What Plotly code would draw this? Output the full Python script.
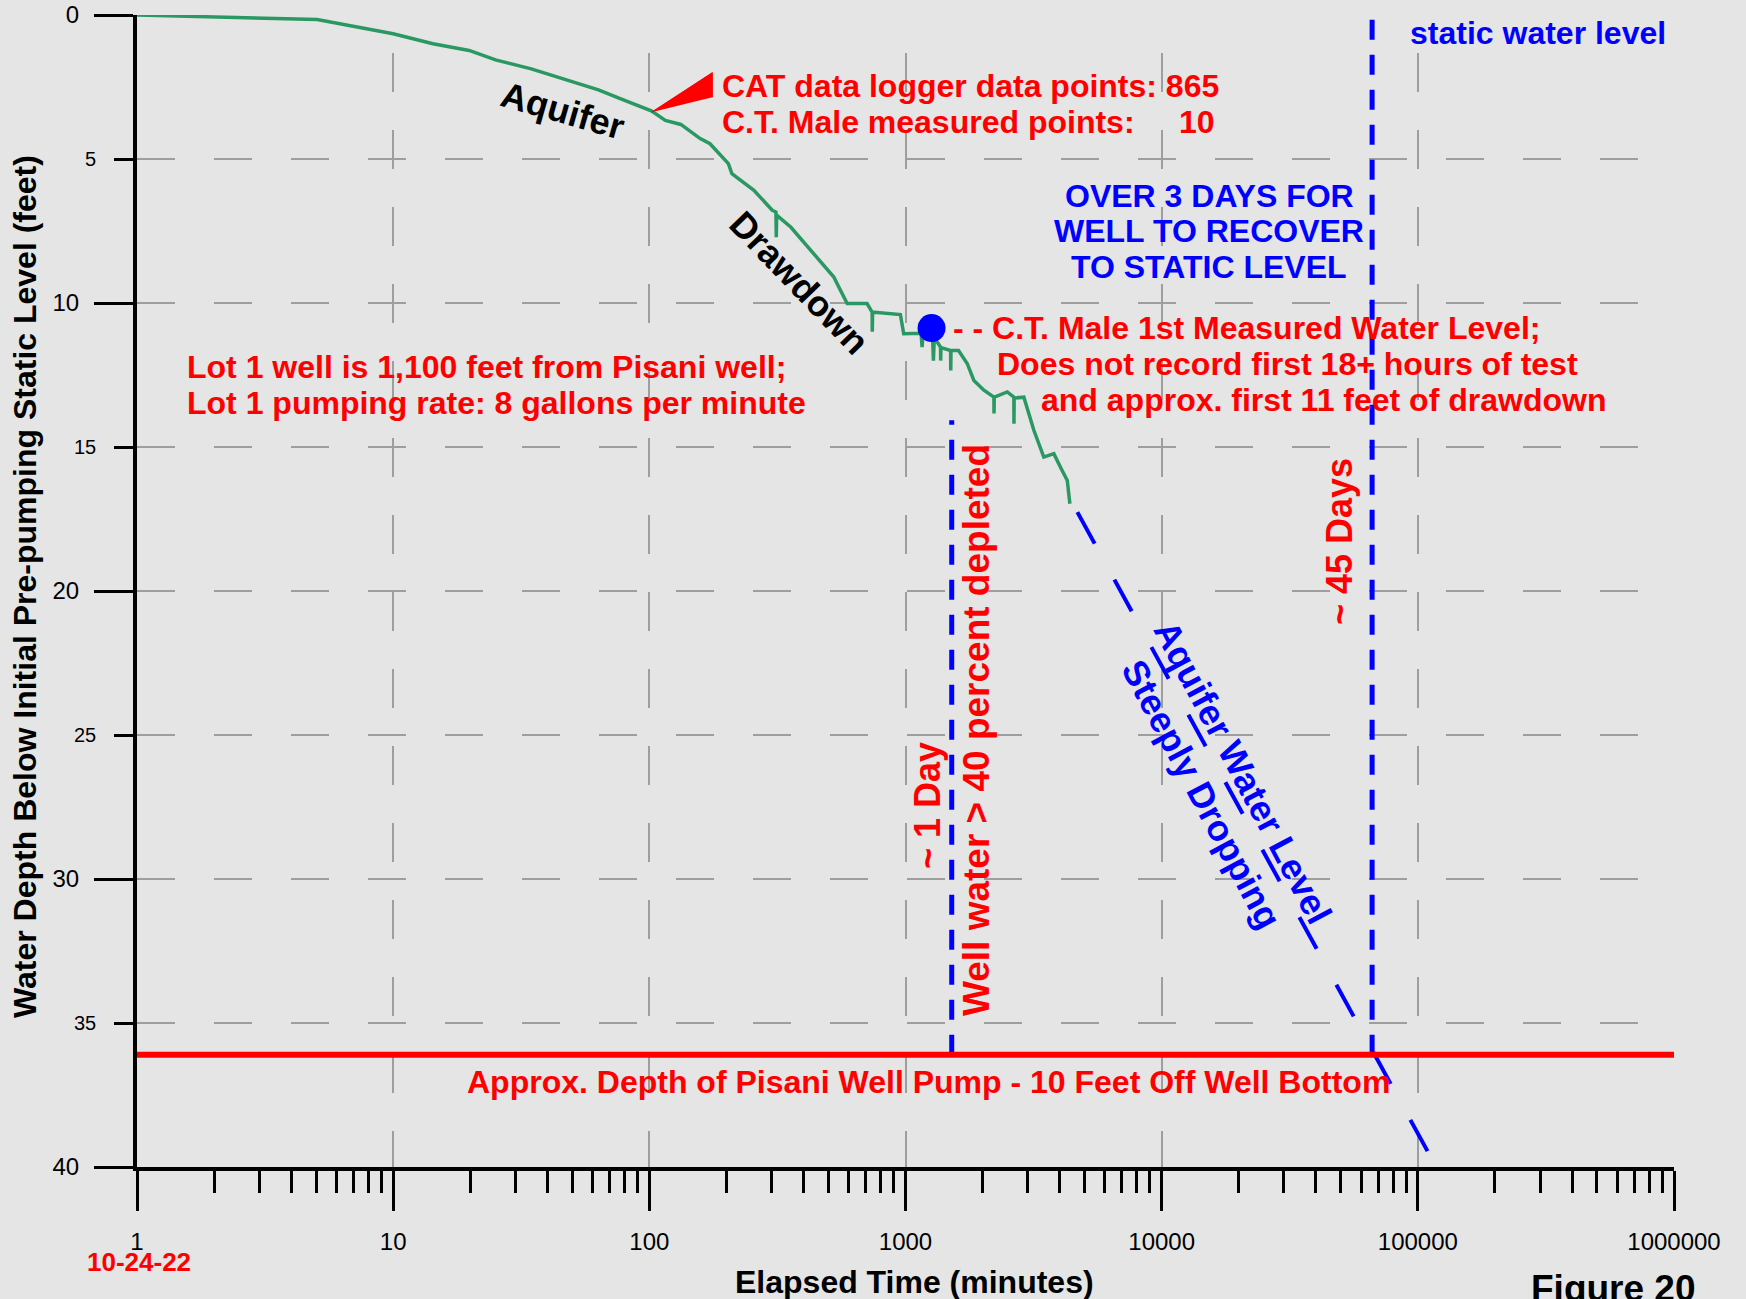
import plotly.graph_objects as go

# ---------------- data ----------------
cat_time = [1, 5.05, 10, 14.3, 19.8, 25.1, 34.6, 47.8, 63.3, 77.4, 90.6, 101.8, 115.5, 132.7, 158, 172.5,
            203.5, 210, 256, 302, 312, 313, 314, 357, 426, 525, 541, 592, 708, 741, 742, 744, 757, 889,
            955, 984, 1111, 1150, 1161, 1170, 1200, 1275, 1285, 1295, 1370, 1372, 1375, 1500, 1502, 1505,
            1611, 1741, 1849, 2023, 2214, 2216, 2220, 2496, 2649, 2651, 2655, 2898, 3170, 3467, 3795,
            4027, 4281, 4382]
cat_depth = [0.0, 0.16, 0.65, 1.0, 1.23, 1.56, 1.87, 2.27, 2.6, 2.91, 3.14, 3.33, 3.66, 3.8, 4.29, 4.47,
             5.16, 5.51, 6.09, 6.78, 6.84, 7.72, 6.95, 7.37, 8.17, 9.1, 9.33, 10.02, 10.02, 10.32, 11.0, 10.34, 10.32, 10.37,
             10.4, 11.07, 11.07, 11.05, 11.53, 11.05, 11.0, 11.1, 12.0, 11.2, 11.53, 12.0, 11.55, 11.65, 12.34, 11.65,
             11.65, 12.1, 12.69, 13.03, 13.27, 13.84, 13.27, 13.09, 13.27, 14.19, 13.3, 13.27, 14.42, 15.35, 15.23,
             15.7, 16.16, 16.97]

ctmale_time = [1264]
ctmale_depth = [10.87]

pump_time = [1, 1000000]
pump_depth = [36.1, 36.1]

one_day_time = [1515, 1515]
one_day_depth = [36.1, 14.07]

recover_time = [66300, 66300]
recover_depth = [36.1, 0.0]

trend_time = [4688, 109100]
trend_depth = [17.26, 39.45]

pointer_time = [101.8, 176.2, 176.2]
pointer_depth = [3.38, 2.0, 2.86]

x_major = [1, 10, 100, 1000, 10000, 100000, 1000000]
x_labels = ["1", "10", "100", "1000", "10000", "100000", "1000000"]
x_minor = [m * 10 ** d for d in range(6) for m in range(2, 10)]
y_major = [0, 10, 20, 30, 40]
y_major_labels = ["0", "10", "20", "30", "40"]
y_minor = [5, 15, 25, 35]
y_minor_labels = ["5", "15", "25", "35"]

# ---------------- layout geometry ----------------
W, H = 1746, 1299
ML, MR, MT, MB = 137, 72, 15, 132
PW, PH = W - ML - MR, H - MT - MB


def PX(x):
    return (x - ML) / PW


def PY(y):
    return 1 - (y - MT) / PH


FONT = "Liberation Sans, Arial, sans-serif"
RED, BLUE, GREEN = "#ff0000", "#0000ff", "#2a9862"
BG = "#e5e5e5"
GRID = "#9e9e9e"

fig = go.Figure()

fig.add_trace(go.Scatter(x=cat_time, y=cat_depth, mode="lines",
                         line=dict(color=GREEN, width=3.5), hoverinfo="skip"))
fig.add_trace(go.Scatter(x=trend_time, y=trend_depth, mode="lines",
                         line=dict(color=BLUE, width=4, dash="36px,41px"), hoverinfo="skip"))
fig.add_trace(go.Scatter(x=one_day_time, y=one_day_depth, mode="lines",
                         line=dict(color=BLUE, width=5, dash="20px,15px"), hoverinfo="skip"))
fig.add_trace(go.Scatter(x=recover_time, y=recover_depth, mode="lines",
                         line=dict(color=BLUE, width=5, dash="20px,15px"), hoverinfo="skip"))
fig.add_trace(go.Scatter(x=pump_time, y=pump_depth, mode="lines",
                         line=dict(color=RED, width=6), hoverinfo="skip"))
fig.add_trace(go.Scatter(x=pointer_time, y=pointer_depth, mode="lines", fill="toself",
                         fillcolor=RED, line=dict(color=RED, width=1), hoverinfo="skip"))
fig.add_trace(go.Scatter(x=ctmale_time, y=ctmale_depth, mode="markers",
                         marker=dict(color=BLUE, size=28), hoverinfo="skip"))

ann = []


def text(t, x, y, size, color, xanchor="left", angle=0, bold=True):
    ann.append(dict(text=("<b>%s</b>" % t) if bold else t, x=PX(x), y=PY(y), xref="paper", yref="paper",
                    xanchor=xanchor, yanchor="middle", textangle=angle, showarrow=False,
                    font=dict(family=FONT, size=size, color=color)))


text("CAT data logger data points: 865", 720, 86, 32, RED)
text("C.T. Male measured points:\u00a0\u00a0\u00a0\u00a0\u00a010", 720, 122, 32, RED)
text("Aquifer", 563, 110, 36, "black", "center", 16)
text("Drawdown", 799, 283, 36, "black", "center", 46)
text("Lot 1 well is 1,100 feet from Pisani well;", 185, 367, 32, RED)
text("Lot 1 pumping rate: 8 gallons per minute", 185, 403, 32, RED)
text("OVER 3 DAYS FOR", 1209, 196, 32, BLUE, "center")
text("WELL TO RECOVER", 1209, 231, 32, BLUE, "center")
text("TO STATIC LEVEL", 1209, 267, 32, BLUE, "center")
text("static water level", 1408, 33, 32, BLUE)
text("- - C.T. Male 1st Measured Water Level;", 951, 328, 32, RED)
text("Does not record first 18+ hours of test", 995, 364, 32, RED)
text("and approx. first 11 feet of drawdown", 1039, 400, 32, RED)
text("~ 1 Day", 927, 806, 36, RED, "center", -90)
text("Well water > 40 percent depleted", 976, 730, 37, RED, "center", -90)
text("~ 45 Days", 1339, 542, 36, RED, "center", -90)
text("Aquifer Water Level<br>Steeply Dropping", 1222, 783, 36, BLUE, "center", 62)
text("Approx. Depth of Pisani Well Pump - 10 Feet Off Well Bottom", 928, 1082, 32, RED, "center")
text("10-24-22", 139, 1262, 26, RED, "center")
text("Elapsed Time (minutes)", 914, 1282, 32, "black", "center")
text("Water Depth Below Initial Pre-pumping Static Level (feet)", 25, 587, 32, "black", "center", -90)
text("Figure 20", 1613, 1288, 37, "black", "center")

for v, lab in zip(y_minor, y_minor_labels):
    ann.append(dict(text=lab, x=PX(98), y=v, xref="paper", yref="y", xanchor="right", yanchor="middle",
                    showarrow=False, font=dict(family=FONT, size=20, color="black")))

fig.update_layout(
    width=W, height=H,
    margin=dict(l=ML, r=MR, t=MT, b=MB, pad=0, autoexpand=False),
    paper_bgcolor=BG, plot_bgcolor=BG,
    showlegend=False,
    annotations=ann,
    xaxis=dict(type="log", range=[0, 6], tickmode="array", tickvals=x_major, ticktext=x_labels,
               ticks="outside", ticklen=40, tickwidth=3, tickcolor="black",
               showline=True, linewidth=3.5, linecolor="black", automargin=False,
               showgrid=True, gridcolor=GRID, gridwidth=1.5, griddash="0px,38px,39px,0px",
               zeroline=False, ticklabelstandoff=10,
               tickfont=dict(family=FONT, size=24, color="black"),
               minor=dict(tickmode="array", tickvals=x_minor, ticks="outside", ticklen=22, tickwidth=3,
                          tickcolor="black", showgrid=False)),
    yaxis=dict(range=[40, 0], tickmode="array", tickvals=y_major, ticktext=y_major_labels,
               ticks="outside", ticklen=39, tickwidth=3, tickcolor="black",
               showline=True, linewidth=4, linecolor="black", automargin=False,
               showgrid=True, gridcolor=GRID, gridwidth=1.5, griddash="38px,39px",
               zeroline=False, ticklabelstandoff=10,
               tickfont=dict(family=FONT, size=24, color="black"),
               minor=dict(tickmode="array", tickvals=y_minor, ticks="outside", ticklen=19, tickwidth=3,
                          tickcolor="black", showgrid=True, gridcolor=GRID, gridwidth=1.5,
                          griddash="38px,39px")),
)

fig.write_html("out.html", config={"displayModeBar": False},
               post_script="document.body.style.margin='0px';")
